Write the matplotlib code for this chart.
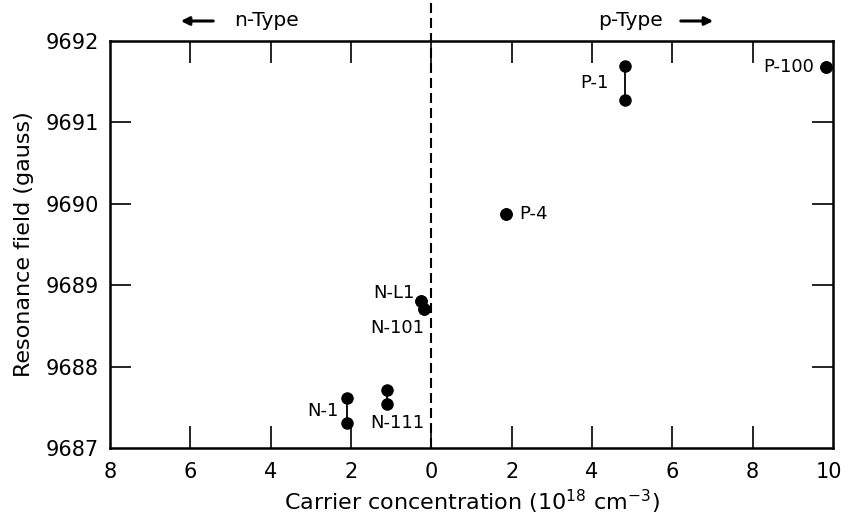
import matplotlib.pyplot as plt
import matplotlib as mpl
from matplotlib.transforms import ScaledTranslation

# --------------------------------------------------------------
# Data (n-type plotted at negative x, labels show magnitude)
# --------------------------------------------------------------
samples = ["N-1", "N-111", "N-L1", "N-101", "P-4", "P-1", "P-100"]
conc = [-2.1, -1.1, -0.25, -0.18, 1.87, 4.83, 9.83]
field_hi = [9687.61, 9687.71, 9688.81, 9688.71, 9689.88, 9691.69, 9691.68]
field_lo = [9687.31, 9687.54, 9688.81, 9688.71, 9689.88, 9691.28, 9691.68]

xticks = [-8, -6, -4, -2, 0, 2, 4, 6, 8, 10]
xticklabels = ["8", "6", "4", "2", "0", "2", "4", "6", "8", "10"]
yticks = [9687, 9688, 9689, 9690, 9691, 9692]

# label offsets in points (dx, dy, ha, anchor)
label_pos = {
    "N-1": (-6, 0, "right", "mid"),
    "N-111": (-12, -14, "left", "lo"),
    "N-L1": (-5, 5.5, "right", "hi"),
    "N-101": (0, -14, "right", "hi"),
    "P-4": (9, 0, "left", "hi"),
    "P-1": (-12, 0, "right", "mid"),
    "P-100": (-9, 0, "right", "hi"),
}

mpl.rcParams["font.family"] = "DejaVu Sans"

fig = plt.figure(figsize=(8.44, 5.14), dpi=100)
ax = fig.add_axes([110 / 844, 1 - 448 / 514, 723 / 844, 407 / 514])

for name, x, hi, lo in zip(samples, conc, field_hi, field_lo):
    ax.plot([x, x], [lo, hi], color="black", lw=1.3, zorder=2)
    ax.plot([x, x], [lo, hi], "o", color="black", ms=8, zorder=3)
    dx, dy, ha, anchor = label_pos[name]
    yy = {"hi": hi, "lo": lo, "mid": (hi + lo) / 2}[anchor]
    ax.annotate(name, (x, yy), xytext=(dx, dy), textcoords="offset points",
                ha=ha, va="center", fontsize=13)

# dashed divider extends above the frame
ax.plot([0, 0], [9687, 9692.5], color="black", lw=1.5, ls=(0, (4.8, 2.4)), clip_on=False)

ax.set_xlim(-8, 10)
ax.set_ylim(9687, 9692)
ax.set_xticks(xticks)
ax.set_xticklabels(xticklabels)
ax.set_yticks(yticks)
ax.set_yticklabels([str(t) for t in yticks])
ax.tick_params(direction="in", length=16, width=1.2, labelsize=15,
               top=True, right=True)
ax.tick_params(axis="x", pad=10)
ax.tick_params(axis="y", length=15, pad=8)

# no tick marks at the frame corners
for axis in (ax.xaxis, ax.yaxis):
    ticks = axis.get_major_ticks()
    for t in (ticks[0], ticks[-1]):
        t.tick1line.set_visible(False)
        t.tick2line.set_visible(False)

# nudge the "10" so it stays inside the picture
lbl = ax.get_xticklabels()[-1]
lbl.set_transform(lbl.get_transform() + ScaledTranslation(-4 / 100, 0, fig.dpi_scale_trans))

for s in ax.spines.values():
    s.set_linewidth(1.8)

ax.set_xlabel("Carrier concentration ($10^{18}$ cm$^{-3}$)", fontsize=16, labelpad=4)
ax.set_ylabel("Resonance field (gauss)", fontsize=16, labelpad=8)

# type arrows above the frame
fig.text(267 / 844, 1 - 21 / 514, "n-Type", fontsize=14.5, ha="center", va="center")
ax.annotate("", xy=(178 / 844, 1 - 21 / 514), xytext=(216 / 844, 1 - 21 / 514),
            xycoords="figure fraction",
            arrowprops=dict(arrowstyle="-|>", color="black", lw=2.2, mutation_scale=12))
fig.text(630 / 844, 1 - 21 / 514, "p-Type", fontsize=14.5, ha="center", va="center")
ax.annotate("", xy=(716 / 844, 1 - 21 / 514), xytext=(678 / 844, 1 - 21 / 514),
            xycoords="figure fraction",
            arrowprops=dict(arrowstyle="-|>", color="black", lw=2.2, mutation_scale=12))

fig.savefig("out.png", dpi=100)
